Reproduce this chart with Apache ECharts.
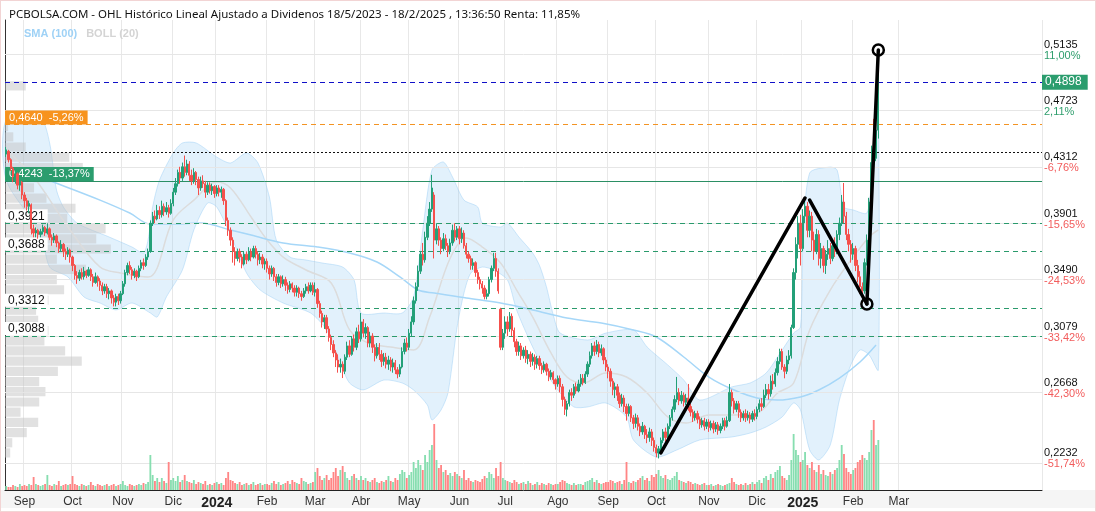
<!DOCTYPE html>
<html><head><meta charset="utf-8">
<script src="https://cdn.jsdelivr.net/npm/echarts/dist/echarts.min.js"></script>
<style>
html,body{margin:0;padding:0;background:#fff;}
#c{width:1096px;height:512px;position:relative;
background:linear-gradient(to bottom,#fff 0,#fff 490px,#f5f5f5 490px,#f5f5f5 508px,#fff 508px);
box-shadow: inset 0 0 0 1px #f2d4d4;}
</style></head><body><div id="c"></div>
<script>
// ---------- calendar ----------
const startDate = '2023-08-22';
const totalSlots = 453;
const lastLabelDate = '2025-03-03';
const holidays = ['2023-12-25','2023-12-26','2024-01-01','2024-03-29','2024-04-01','2024-05-01','2024-12-25','2024-12-26','2025-01-01','2025-04-18','2025-04-21'];
const monthNames = ['Ene','Feb','Mar','Abr','May','Jun','Jul','Ago','Sep','Oct','Nov','Dic'];

// ---------- OHLC [open, close, low, high] in 1/10000 ----------
const ohlc_2023_08 = [[4390,4420,4370,4440],[4410,4350,4330,4420],[4350,4290,4270,4360],[4290,4230,4190,4300],[4230,4250,4180,4270],[4250,4170,4140,4260],[4170,4200,4130,4220],[4190,4100,4070,4200]];
const ohlc_2023_09 = [[4100,4060,4010,4120],[4060,4020,3990,4080],[4020,4040,3970,4060],[4030,3860,3820,4040],[3860,3830,3800,3890],[3830,3850,3800,3870],[3850,3820,3790,3860],[3820,3840,3800,3860],[3840,3870,3820,3890],[3870,3830,3810,3880],[3830,3860,3820,3900],[3860,3800,3780,3870],[3800,3780,3740,3820],[3780,3810,3760,3830],[3810,3760,3730,3820],[3760,3720,3690,3770],[3720,3750,3700,3780],[3750,3700,3660,3760],[3700,3680,3640,3720],[3680,3710,3660,3730],[3710,3660,3620,3720]];
const ohlc_2023_10 = [[3660,3600,3560,3670],[3600,3530,3500,3610],[3530,3510,3470,3560],[3510,3550,3490,3570],[3550,3520,3500,3580],[3520,3560,3500,3590],[3560,3530,3510,3570],[3530,3570,3520,3590],[3570,3520,3490,3580],[3520,3480,3450,3540],[3480,3520,3470,3550],[3520,3490,3450,3530],[3490,3460,3420,3510],[3460,3420,3390,3480],[3420,3450,3400,3470],[3450,3400,3370,3470],[3400,3420,3360,3440],[3420,3370,3330,3430],[3370,3340,3310,3390],[3340,3380,3310,3400],[3380,3350,3320,3400],[3350,3400,3330,3420]];
const ohlc_2023_11 = [[3400,3470,3390,3490],[3470,3550,3450,3570],[3550,3600,3530,3620],[3600,3570,3540,3630],[3570,3530,3500,3590],[3530,3560,3510,3580],[3560,3520,3490,3570],[3520,3580,3510,3600],[3580,3620,3560,3640],[3620,3600,3570,3650],[3600,3660,3590,3680],[3660,3700,3640,3720],[3700,3900,3690,3920],[3900,3950,3880,3980],[3950,3930,3900,3990],[3930,3990,3920,4030],[3990,3960,3930,4020],[3960,4020,3940,4060],[4020,3980,3950,4040],[3980,4010,3960,4050],[4010,3970,3940,4030],[3970,4040,3960,4070]];
const ohlc_2023_12 = [[4040,4120,4020,4150],[4120,4180,4100,4220],[4180,4260,4160,4280],[4260,4220,4180,4300],[4220,4300,4200,4330],[4300,4260,4230,4380],[4260,4320,4240,4350],[4320,4240,4200,4340],[4240,4200,4170,4280],[4200,4260,4180,4290],[4260,4210,4170,4270],[4210,4150,4100,4230],[4150,4200,4130,4230],[4200,4180,4150,4240],[4180,4120,4080,4200],[4120,4170,4100,4190],[4170,4130,4110,4190],[4130,4160,4100,4180],[4160,4110,4080,4170]];
const ohlc_2024_01 = [[4110,4150,4090,4170],[4150,4120,4090,4170],[4120,4140,4080,4160],[4140,4060,4030,4150],[4060,3920,3880,4070],[3920,3850,3810,3940],[3850,3780,3740,3870],[3780,3700,3620,3800],[3700,3650,3600,3730],[3650,3700,3630,3720],[3700,3660,3620,3720],[3660,3610,3580,3680],[3610,3680,3600,3700],[3680,3640,3610,3700],[3640,3700,3630,3730],[3700,3660,3630,3720],[3660,3720,3650,3740],[3720,3680,3650,3740],[3680,3640,3600,3700],[3640,3660,3610,3690],[3660,3610,3580,3680],[3610,3630,3570,3650]];
const ohlc_2024_02 = [[3630,3580,3550,3650],[3580,3540,3500,3600],[3540,3580,3520,3600],[3580,3520,3490,3590],[3520,3480,3450,3540],[3480,3520,3460,3540],[3520,3470,3440,3530],[3470,3500,3450,3530],[3500,3460,3420,3520],[3460,3430,3400,3480],[3430,3470,3410,3490],[3470,3440,3410,3480],[3440,3410,3380,3460],[3410,3440,3380,3460],[3440,3400,3370,3450],[3400,3380,3350,3420],[3380,3420,3370,3440],[3420,3450,3400,3470],[3450,3420,3400,3480],[3420,3460,3410,3480],[3460,3410,3390,3480]];
const ohlc_2024_03 = [[3410,3430,3380,3480],[3430,3330,3300,3440],[3330,3260,3230,3350],[3260,3200,3160,3280],[3200,3230,3150,3250],[3230,3150,3120,3250],[3150,3090,3060,3170],[3090,3040,3000,3110],[3040,2980,2950,3070],[2980,2930,2880,3000],[2930,2880,2840,2970],[2880,2900,2840,2940],[2900,2850,2802,2920],[2850,2950,2830,2970],[2950,3030,2930,3060],[3030,2970,2950,3070],[2970,3080,2960,3100],[3080,3020,2990,3110],[3020,3130,3000,3160],[3130,3080,3050,3180]];
const ohlc_2024_04 = [[3080,3200,3060,3263],[3200,3120,3090,3220],[3120,3160,3080,3190],[3160,3050,3020,3170],[3050,3100,3020,3130],[3100,3020,2980,3120],[3020,2960,2920,3040],[2960,3020,2940,3050],[3020,2970,2930,3050],[2970,2920,2880,3000],[2920,2950,2890,2980],[2950,2900,2870,2980],[2900,2930,2860,2960],[2930,2880,2850,2950],[2880,2910,2840,2940],[2910,2860,2830,2930],[2860,2830,2800,2880],[2830,2880,2810,2900],[2880,2990,2870,3020],[2990,3050,2970,3080],[3050,3020,2990,3090]];
const ohlc_2024_05 = [[3020,3120,3000,3150],[3120,3200,3100,3240],[3200,3350,3180,3380],[3350,3450,3330,3480],[3450,3560,3420,3600],[3560,3680,3540,3700],[3680,3640,3600,3760],[3640,3800,3620,3840],[3800,3900,3780,3950],[3900,4000,3880,4050],[4000,4150,3980,4243],[4100,3780,3650,4120],[3780,3860,3750,3900],[3860,3780,3740,3880],[3780,3720,3680,3800],[3720,3790,3700,3830],[3790,3740,3710,3820],[3740,3700,3660,3760],[3700,3760,3680,3790],[3760,3850,3740,3890],[3850,3800,3770,3900],[3800,3860,3780,3880]];
const ohlc_2024_06 = [[3860,3790,3750,3880],[3790,3830,3760,3870],[3830,3740,3720,3850],[3740,3680,3650,3760],[3680,3650,3620,3700],[3650,3600,3570,3670],[3600,3620,3570,3650],[3620,3550,3520,3630],[3550,3500,3470,3570],[3500,3470,3430,3520],[3470,3440,3400,3490],[3440,3380,3360,3460],[3380,3400,3360,3430],[3400,3500,3380,3520],[3500,3580,3480,3600],[3580,3650,3560,3690],[3650,3560,3520,3690],[3560,3420,3400,3580],[3290,3020,3000,3300],[3020,3120,3000,3150]];
const ohlc_2024_07 = [[3120,3200,3080,3240],[3200,3150,3100,3240],[3150,3240,3130,3270],[3240,3140,3100,3260],[3140,3060,3020,3160],[3060,2990,2960,3080],[2990,3030,2960,3060],[3030,2960,2930,3050],[2960,3000,2940,3020],[3000,2940,2910,3030],[2940,2970,2900,3000],[2970,2920,2880,2990],[2920,2950,2890,2980],[2950,2900,2860,2970],[2900,2940,2870,2960],[2940,2890,2860,2960],[2890,2860,2830,2910],[2860,2900,2840,2920],[2900,2850,2820,2910],[2850,2810,2780,2870],[2810,2840,2790,2860],[2840,2790,2760,2850],[2790,2760,2720,2800]];
const ohlc_2024_08 = [[2760,2800,2740,2820],[2800,2740,2700,2820],[2740,2650,2600,2760],[2650,2580,2540,2670],[2580,2620,2530,2640],[2620,2700,2600,2720],[2700,2680,2640,2730],[2680,2740,2660,2760],[2740,2710,2690,2770],[2710,2760,2700,2790],[2760,2800,2740,2830],[2800,2770,2750,2830],[2770,2830,2760,2850],[2830,2900,2810,2920],[2900,2960,2880,2990],[2960,3030,2940,3050],[3030,2990,2960,3060],[2990,3040,2970,3072],[3040,2980,2950,3060],[2980,3010,2960,3040],[3010,2930,2900,3020],[2930,2880,2850,2950]];
const ohlc_2024_09 = [[2880,2850,2800,2900],[2850,2780,2740,2870],[2780,2720,2680,2800],[2720,2740,2660,2770],[2740,2680,2640,2760],[2680,2620,2590,2700],[2620,2660,2600,2690],[2660,2600,2560,2680],[2600,2550,2500,2620],[2550,2600,2530,2620],[2600,2520,2490,2610],[2520,2480,2440,2540],[2480,2520,2450,2550],[2520,2460,2430,2540],[2460,2420,2390,2480],[2420,2460,2400,2490],[2460,2400,2370,2470],[2400,2380,2340,2440],[2380,2420,2350,2450],[2420,2360,2320,2440],[2360,2310,2280,2380]];
const ohlc_2024_10 = [[2310,2270,2240,2330],[2270,2300,2232,2320],[2300,2360,2280,2380],[2360,2420,2340,2440],[2420,2380,2350,2450],[2380,2460,2370,2480],[2460,2520,2440,2540],[2520,2580,2500,2600],[2580,2650,2560,2680],[2650,2700,2630,2810],[2700,2640,2610,2730],[2640,2680,2620,2710],[2680,2630,2600,2700],[2630,2660,2610,2690],[2660,2600,2570,2760],[2600,2560,2530,2620],[2560,2520,2490,2580],[2520,2550,2500,2570],[2550,2510,2480,2570],[2510,2470,2440,2530],[2470,2500,2450,2520],[2500,2460,2430,2520],[2460,2490,2440,2510]];
const ohlc_2024_11 = [[2490,2450,2420,2510],[2450,2480,2430,2500],[2480,2440,2410,2500],[2440,2470,2420,2490],[2470,2430,2400,2490],[2430,2460,2410,2480],[2460,2500,2440,2520],[2500,2460,2430,2520],[2460,2500,2450,2530],[2500,2700,2490,2760],[2700,2640,2600,2720],[2640,2580,2550,2660],[2580,2620,2560,2640],[2620,2560,2520,2640],[2560,2520,2490,2580],[2520,2550,2500,2570],[2550,2520,2490,2580],[2520,2540,2500,2570],[2540,2510,2480,2560],[2510,2550,2490,2570],[2550,2530,2500,2580]];
const ohlc_2024_12 = [[2530,2580,2510,2600],[2580,2620,2560,2650],[2620,2600,2570,2660],[2600,2680,2590,2720],[2680,2720,2660,2760],[2720,2690,2650,2760],[2690,2780,2670,2820],[2780,2760,2720,2830],[2760,2840,2740,2870],[2840,2920,2820,2950],[2920,2990,2900,3010],[2990,2880,2860,3010],[2880,2850,2800,2900],[2850,2930,2830,2960],[2930,2960,2900,3000],[2960,3160,2940,3180],[3160,3550,3150,3580],[3550,3750,3500,3800],[3750,3900,3650,3950],[3900,3720,3600,3960]];
const ohlc_2025_01 = [[3720,3950,3700,4000],[3950,4020,3900,4086],[4020,3850,3800,4050],[3850,3950,3800,3990],[3950,3780,3700,3980],[3780,3700,3640,3840],[3700,3820,3680,3860],[3820,3650,3600,3850],[3650,3720,3580,3760],[3720,3600,3550,3740],[3600,3680,3540,3710],[3680,3720,3640,3780],[3720,3650,3610,3760],[3650,3740,3630,3770],[3740,3700,3660,3800],[3700,3820,3680,3850],[3820,3900,3780,3940],[3900,4050,3880,4100],[4050,3950,3900,4185],[3950,3820,3780,3980],[3820,3750,3700,3860],[3750,3680,3620,3780]];
const ohlc_2025_02 = [[3680,3720,3640,3760],[3720,3600,3560,3740],[3600,3520,3480,3640],[3520,3450,3400,3560],[3450,3420,3334,3480],[3420,3620,3400,3650],[3620,3780,3600,3820],[3780,4050,3760,4080],[4050,4330,4020,4450],[4630,4360,4330,4640],[4360,4560,4340,4600],[4560,4898,4500,5135]];

// ---------- volume (relative units) ----------
const vol_2023_08 = [4,3,3,5,4,3,6,4];
const vol_2023_09 = [5,4,6,5,13,6,5,4,5,6,15,5,4,6,5,9,4,5,6,5,6];
const vol_2023_10 = [14,6,5,4,6,5,4,5,8,5,4,6,5,4,5,6,4,5,6,4,5,6];
const vol_2023_11 = [9,5,4,6,5,4,5,6,5,7,6,8,35,15,9,12,8,12,9,7,28,10];
const vol_2023_12 = [12,9,14,8,10,15,9,8,7,10,6,8,7,6,9,5,6,5,7];
const vol_2024_01 = [8,6,7,5,12,18,10,9,7,6,8,5,6,7,5,6,8,5,6,7,5,6];
const vol_2024_02 = [6,5,7,9,6,8,5,6,7,9,6,10,8,7,6,12,9,8,6,7,8];
const vol_2024_03 = [18,22,14,10,12,15,10,12,18,22,14,20,24,18,12,10,14,16,12,10];
const vol_2024_04 = [14,10,12,9,8,10,12,8,7,9,8,10,14,9,8,12,10,16,20,18,12];
const vol_2024_05 = [15,18,28,22,30,25,20,35,28,40,45,66,30,22,25,18,20,15,17,14,18,16];
const vol_2024_06 = [14,12,20,10,12,9,8,10,9,8,11,14,12,18,16,12,22,14,28,12];
const vol_2024_07 = [10,9,8,7,10,8,6,7,8,6,9,7,5,6,8,5,7,6,5,7,6,5,6];
const vol_2024_08 = [6,8,10,9,7,6,5,7,5,6,6,5,8,9,10,12,8,10,7,6,7,8];
const vol_2024_09 = [8,10,9,7,8,9,6,10,28,8,7,9,8,10,12,14,10,12,9,15,13];
const vol_2024_10 = [16,20,14,12,15,11,10,12,14,18,10,9,8,7,9,8,6,7,6,5,6,7,5];
const vol_2024_11 = [5,6,4,5,6,5,4,5,6,7,12,8,6,5,6,5,7,5,6,8,6];
const vol_2024_12 = [8,10,7,12,14,10,16,12,18,20,24,14,12,10,15,30,56,40,35,28];
const vol_2025_01 = [30,38,25,22,28,20,18,25,16,20,15,14,18,16,20,22,30,45,36,22,18,16];
const vol_2025_02 = [20,22,28,30,35,32,30,38,60,70,45,50];

// ---------- indicators [slot index, price] ----------
const sma100 = [[0,0.4299],[12,0.4242],[24,0.4171],[41,0.4064],[54,0.3972],[63,0.3894],[74,0.3894],[85,0.3901],[98,0.3852],[107,0.3816],[121,0.3760],[136,0.3731],[150,0.3689],[162,0.3625],[172,0.3519],[180,0.3426],[187,0.3405],[201,0.3370],[216,0.3334],[230,0.3285],[245,0.3228],[260,0.3192],[274,0.3143],[284,0.3093],[296,0.2951],[307,0.2809],[318,0.2717],[328,0.2661],[337,0.2646],[347,0.2668],[355,0.2717],[364,0.2802],[373,0.2916],[380,0.3036]];
const bollUpper = [[0,0.4632],[15,0.4646],[19,0.4469],[22,0.4135],[25,0.4015],[31,0.3901],[45,0.3802],[55,0.3731],[60,0.3689],[62,0.3781],[64,0.4015],[67,0.4206],[73,0.4398],[77,0.4469],[83,0.4469],[92,0.4369],[98,0.4327],[105,0.4398],[110,0.4327],[115,0.4086],[118,0.3781],[124,0.3660],[131,0.3639],[138,0.3618],[147,0.3589],[152,0.3497],[155,0.3263],[165,0.3263],[173,0.3263],[178,0.3377],[182,0.3852],[186,0.4277],[191,0.4334],[195,0.4227],[200,0.4064],[206,0.4015],[208,0.3901],[216,0.3873],[219,0.3901],[224,0.3802],[230,0.3689],[233,0.3600],[236,0.3450],[239,0.3250],[242,0.3121],[254,0.3072],[262,0.3121],[274,0.3143],[280,0.3022],[289,0.2895],[296,0.2788],[303,0.2646],[317,0.2739],[325,0.2767],[332,0.2838],[339,0.3001],[344,0.3121],[347,0.3164],[348,0.3710],[351,0.4256],[360,0.4298],[363,0.4277],[366,0.4015],[370,0.3994],[376,0.3972],[378,0.4206],[380,0.4632],[381,0.4844]];
const bollLower = [[0,0.4206],[15,0.3831],[19,0.3589],[27,0.3519],[34,0.3377],[41,0.3334],[48,0.3285],[55,0.3334],[63,0.3263],[66,0.3235],[70,0.3377],[77,0.3568],[82,0.3852],[88,0.4043],[92,0.4015],[99,0.3781],[105,0.3547],[111,0.3426],[121,0.3334],[133,0.3263],[140,0.3143],[146,0.2909],[150,0.2767],[156,0.2718],[165,0.2788],[173,0.2767],[178,0.2717],[184,0.2611],[186,0.2505],[190,0.2576],[193,0.2696],[197,0.3164],[200,0.3405],[203,0.3547],[208,0.3589],[213,0.3568],[219,0.3497],[223,0.3284],[230,0.3022],[236,0.2838],[241,0.2717],[248,0.2597],[254,0.2597],[262,0.2625],[271,0.2526],[274,0.2363],[284,0.2242],[293,0.2292],[303,0.2363],[317,0.2384],[325,0.2412],[332,0.2455],[339,0.2526],[344,0.2625],[347,0.2576],[351,0.2292],[355,0.2221],[360,0.2327],[364,0.2646],[369,0.2895],[373,0.3001],[377,0.2966],[381,0.2859]];
const bollMid = [[0,0.4419],[12,0.4227],[27,0.3873],[41,0.3589],[50,0.3547],[62,0.3518],[73,0.3923],[82,0.4064],[92,0.4192],[98,0.4150],[107,0.3944],[114,0.3781],[121,0.3660],[131,0.3568],[142,0.3476],[150,0.3143],[158,0.3051],[168,0.3022],[178,0.3001],[185,0.3235],[194,0.3653],[201,0.3795],[208,0.3731],[216,0.3618],[223,0.3426],[230,0.3235],[238,0.2980],[245,0.2809],[252,0.2767],[262,0.2838],[271,0.2809],[280,0.2696],[289,0.2526],[297,0.2483],[307,0.2540],[317,0.2540],[328,0.2554],[337,0.2696],[344,0.2767],[351,0.3143],[360,0.3426],[369,0.3639],[377,0.3802],[381,0.3852]];

// ---------- volume profile ----------
const profStep = 0.00723;
const profPrice = [0.4874,0.4802,0.4729,0.4657,0.4585,0.4512,0.4440,0.4368,0.4295,0.4223,0.4151,0.4078,0.4006,0.3934,0.3862,0.3789,0.3717,0.3645,0.3572,0.3500,0.3428,0.3355,0.3283,0.3211,0.3138,0.3066,0.2994,0.2922,0.2849,0.2777,0.2705,0.2632,0.2560,0.2488,0.2415,0.2343,0.2271];
const profVol   = [20,0,0,0,3,8,20,62,75,45,28,40,68,60,97,88,102,50,78,50,57,42,30,32,42,38,58,74,51,33,39,33,15,32,21,7,5];

// ---------- axis ticks & levels ----------
const axisTicks = [0.5135,0.4723,0.4312,0.3901,0.3490,0.3079,0.2668,0.2232];
const axisPct = ['11,00%','2,11%','-6,76%','-15,65%','-24,53%','-33,42%','-42,30%','-51,74%'];
const supportLevels = [0.3921,0.3688,0.3312,0.3088];
const lastPrice = 0.4898;
const orangeLevel = 0.4640, orangePct = '-5,26%';
const greenLevel = 0.4243, greenPct = '-13,37%';
const dottedLevel = 0.4380;

// ---------- drawn annotations [slot, price] ----------
const trendSegs = [[286,0.2271,349,0.4079],[351,0.4064,376,0.3327],[376,0.3327,381,0.5128]];
const trendCircles = [[376,0.3327],[381,0.5128]];

// ---------- build ----------
const dates = [];
{ let d = new Date(startDate + 'T00:00:00Z');
  while (dates.length < totalSlots) {
    const s = d.toISOString().slice(0,10), w = d.getUTCDay();
    if (w !== 0 && w !== 6 && holidays.indexOf(s) < 0) dates.push(s);
    d.setUTCDate(d.getUTCDate() + 1);
  } }
const monthStart = dates.map((s,i) => i > 0 && s <= lastLabelDate && s.slice(5,7) !== dates[i-1].slice(5,7));
const ohlc = [].concat(ohlc_2023_08,ohlc_2023_09,ohlc_2023_10,ohlc_2023_11,ohlc_2023_12,ohlc_2024_01,ohlc_2024_02,ohlc_2024_03,ohlc_2024_04,ohlc_2024_05,ohlc_2024_06,ohlc_2024_07,ohlc_2024_08,ohlc_2024_09,ohlc_2024_10,ohlc_2024_11,ohlc_2024_12,ohlc_2025_01,ohlc_2025_02);
const vols = [].concat(vol_2023_08,vol_2023_09,vol_2023_10,vol_2023_11,vol_2023_12,vol_2024_01,vol_2024_02,vol_2024_03,vol_2024_04,vol_2024_05,vol_2024_06,vol_2024_07,vol_2024_08,vol_2024_09,vol_2024_10,vol_2024_11,vol_2024_12,vol_2025_01,vol_2025_02);
const candles = ohlc.map(r => r.map(v => v / 10000));
const volData = vols.map((v,i) => ({ value: v, itemStyle: { color: ohlc[i][1] >= ohlc[i][0] ? '#87deb0' : '#ff8585' } }));
const fmt = v => v.toFixed(4).replace('.', ',');
const UP = '#23a078', DOWN = '#f5504c';
const FONT = 'Liberation Sans, Arial, sans-serif';

const gridMarks = axisTicks.map((v,k) => ({
  yAxis: v,
  lineStyle: { color: '#e6e6e6', type: 'solid', width: 1 },
  label: { show: true, position: 'end', distance: 2, padding: [0,0,8,0],
    formatter: '{v|' + fmt(v) + '}\n{p|' + axisPct[k] + '}',
    rich: { v: { color: '#111', fontSize: 11, lineHeight: 11, fontFamily: FONT },
            p: { color: axisPct[k][0] === '-' ? '#f25c5c' : '#2f9e6d', fontSize: 11, lineHeight: 11, fontFamily: FONT } } }
}));
const levelMarks = [
  { yAxis: lastPrice, lineStyle: { color: '#1010c8', type: [5,4], width: 1 },
    label: { show: true, position: 'end', distance: 0, formatter: fmt(lastPrice), color: '#fff', backgroundColor: '#2b9d6e', padding: [2,6,1,3], fontSize: 12, fontFamily: FONT } },
  { yAxis: orangeLevel, lineStyle: { color: '#f39322', type: [5,4], width: 1 },
    label: { show: true, position: 'insideStartTop', distance: [0,0], formatter: fmt(orangeLevel) + '  ' + orangePct, color: '#fff', backgroundColor: '#f7931e', padding: [2,4,1,4], fontSize: 11, fontFamily: FONT } },
  { yAxis: dottedLevel, lineStyle: { color: '#111', type: [2,2], width: 1 }, label: { show: false } },
  { yAxis: greenLevel, lineStyle: { color: '#2b8f64', type: 'solid', width: 1 },
    label: { show: true, position: 'insideStartTop', distance: [0,0], formatter: fmt(greenLevel) + '  ' + greenPct, color: '#fff', backgroundColor: '#2b9d6e', padding: [2,4,1,4], fontSize: 11, fontFamily: FONT } }
].concat(supportLevels.map(v => ({
  yAxis: v, lineStyle: { color: '#2a9a6c', type: [5,4], width: 1 },
  label: { show: true, position: 'insideStartTop', distance: [0,1], formatter: fmt(v), color: '#111', backgroundColor: '#fff', padding: [1,3,0,3], fontSize: 12, fontFamily: FONT }
})));

const chart = echarts.init(document.getElementById('c'), null, { renderer: 'canvas' });
chart.setOption({
  animation: false,
  textStyle: { fontFamily: FONT },
  title: { text: 'PCBOLSA.COM - OHL Histórico Lineal Ajustado a Dividenos 18/5/2023 - 18/2/2025 , 13:36:50 Renta: 11,85%',
    left: 4, top: 4, textStyle: { fontSize: 11.5, fontWeight: 'normal', color: '#111', fontFamily: 'Noto Sans' } },
  legend: { left: 14, top: 23, itemGap: 4, itemWidth: 0, itemHeight: 0, selectedMode: false,
    textStyle: { fontSize: 11, fontWeight: 'bold' },
    data: [ { name: 'SMA (100)', icon: 'none', textStyle: { color: '#9fd2f6' } },
            { name: 'BOLL (20)', icon: 'none', textStyle: { color: '#d4d4d4' } } ] },
  grid: [ { left: 5, right: 54, top: 20, bottom: 22 }, { left: 5, right: 54, top: 415, bottom: 22 } ],
  xAxis: [
    { type: 'category', gridIndex: 0, data: dates, boundaryGap: true,
      axisLine: { show: true, lineStyle: { color: '#222' } }, axisTick: { show: false },
      axisLabel: { interval: (i) => monthStart[i], margin: 6, color: '#333', fontSize: 12,
        formatter: (v) => { const m = +v.slice(5,7); return m === 1 ? '{y|' + v.slice(0,4) + '}' : monthNames[m-1]; },
        rich: { y: { fontWeight: 'bold', fontSize: 14, color: '#222' } } },
      splitLine: { show: true, interval: (i) => monthStart[i], lineStyle: { color: '#e8e8e8' } } },
    { type: 'category', gridIndex: 1, data: dates, boundaryGap: true, show: false },
    { type: 'value', gridIndex: 0, position: 'top', min: 0, max: 1000, show: false }
  ],
  yAxis: [
    { type: 'value', gridIndex: 0, position: 'right', min: 0.2008, max: 0.5341, scale: true,
      splitLine: { show: false }, axisLabel: { show: false }, axisTick: { show: false },
      axisLine: { show: true, lineStyle: { color: '#333' } } },
    { type: 'value', gridIndex: 1, min: 0, max: 75, show: false }
  ],
  series: [
    { type: 'line', name: 'grid', data: [], xAxisIndex: 0, yAxisIndex: 0, z: 0, silent: true,
      markLine: { silent: true, symbol: ['none','none'], animation: false, data: gridMarks } },
    { type: 'custom', name: 'band', xAxisIndex: 0, yAxisIndex: 0, z: 1, silent: true, clip: false,
      data: [[0, 0.4]],
      renderItem: (params, api) => {
        const pts = bollUpper.map(p => api.coord(p));
        for (let k = bollLower.length - 1; k >= 0; k--) pts.push(api.coord(bollLower[k]));
        return { type: 'polygon', shape: { points: pts, smooth: 0.25 },
          style: { fill: 'rgba(150,205,245,0.28)', stroke: 'rgba(150,205,245,0.45)', lineWidth: 1 } };
      } },
    { type: 'custom', name: 'profile', xAxisIndex: 2, yAxisIndex: 0, z: 2, silent: true,
      data: profPrice.map((p,k) => [profVol[k], p]),
      renderItem: (params, api) => {
        const v = api.value(0), p = api.value(1);
        if (!v) return;
        const a = api.coord([0, p + profStep / 2]), b = api.coord([v, p - profStep / 2]);
        return { type: 'rect', shape: { x: a[0], y: a[1] + 0.5, width: b[0] - a[0], height: b[1] - a[1] - 1 },
          style: { fill: 'rgba(195,195,195,0.5)' } };
      } },
    { type: 'line', name: 'BOLL (20)', data: bollMid, xAxisIndex: 0, yAxisIndex: 0, z: 3, smooth: 0.35,
      showSymbol: false, lineStyle: { color: '#dcdcdc', width: 1.5 }, itemStyle: { color: '#dcdcdc' } },
    { type: 'line', name: 'SMA (100)', data: sma100, xAxisIndex: 0, yAxisIndex: 0, z: 3, smooth: 0.35,
      showSymbol: false, lineStyle: { color: '#a6d7f8', width: 1.5 }, itemStyle: { color: '#a6d7f8' } },
    { type: 'line', name: 'levels', data: [], xAxisIndex: 0, yAxisIndex: 0, z: 4, silent: true,
      markLine: { silent: true, symbol: ['none','none'], animation: false, data: levelMarks } },
    { type: 'candlestick', name: 'OHL', data: candles, xAxisIndex: 0, yAxisIndex: 0, z: 5, barWidth: 1.8,
      itemStyle: { color: UP, color0: DOWN, borderColor: UP, borderColor0: DOWN, borderWidth: 1 } },
    { type: 'bar', name: 'vol', data: volData, xAxisIndex: 1, yAxisIndex: 1, z: 5, barWidth: '80%' },
    { type: 'custom', name: 'trend', xAxisIndex: 0, yAxisIndex: 0, z: 10, silent: true, clip: false,
      data: trendSegs, encode: { x: [0,2], y: [1,3] },
      renderItem: (params, api) => {
        const a = api.coord([api.value(0), api.value(1)]), b = api.coord([api.value(2), api.value(3)]);
        return { type: 'line', shape: { x1: a[0], y1: a[1], x2: b[0], y2: b[1] },
          style: { stroke: '#000', lineWidth: 3.5, lineCap: 'round' } };
      } },
    { type: 'custom', name: 'marks', xAxisIndex: 0, yAxisIndex: 0, z: 11, silent: true, clip: false,
      data: trendCircles,
      renderItem: (params, api) => {
        const c = api.coord([api.value(0), api.value(1)]);
        return { type: 'circle', shape: { cx: c[0], cy: c[1], r: 5.5 }, style: { fill: 'none', stroke: '#000', lineWidth: 2.5 } };
      } }
  ]
});
</script></body></html>
